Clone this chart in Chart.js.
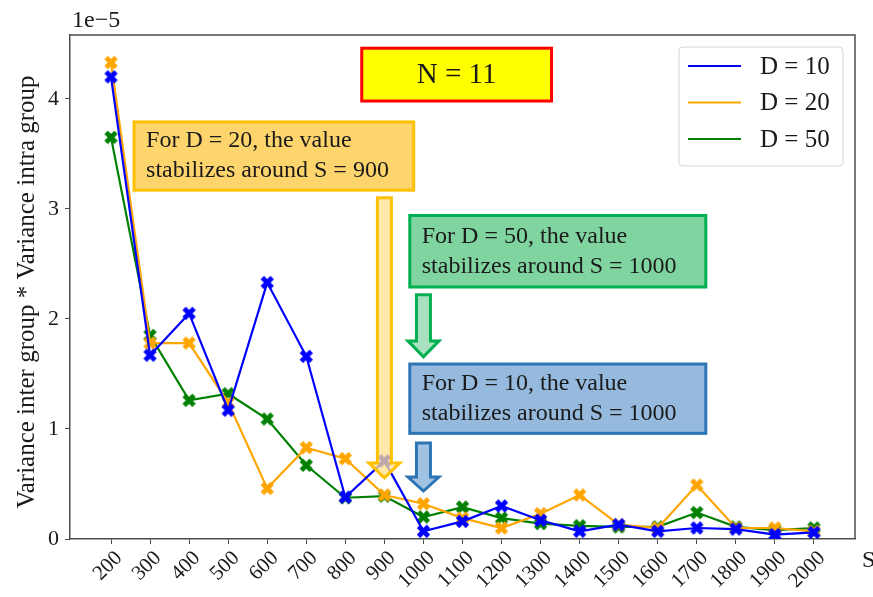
<!DOCTYPE html>
<html>
<head>
<meta charset="utf-8">
<script src="https://cdn.jsdelivr.net/npm/chart.js@4/dist/chart.umd.min.js"></script>
<style>
  html, body { margin: 0; padding: 0; background: #fff; }
  #wrap { width: 873px; height: 597px; position: relative; }
</style>
</head>
<body>
<div id="wrap"><canvas id="c" width="873" height="597"></canvas></div>
<script>
// Sample sizes S
const sizes = [200, 300, 400, 500, 600, 700, 800, 900, 1000, 1100, 1200, 1300, 1400, 1500, 1600, 1700, 1800, 1900, 2000];
// Variance inter group * variance intra group, in units of 1e-5
const d10 = [4.20, 1.67, 2.05, 1.17, 2.33, 1.66, 0.38, 0.71, 0.07, 0.16, 0.30, 0.17, 0.07, 0.13, 0.07, 0.10, 0.09, 0.04, 0.06];
const d20 = [4.33, 1.78, 1.78, 1.24, 0.46, 0.83, 0.73, 0.40, 0.32, 0.19, 0.10, 0.23, 0.40, 0.13, 0.10, 0.49, 0.10, 0.10, 0.07];
const d50 = [3.65, 1.85, 1.26, 1.32, 1.09, 0.67, 0.375, 0.39, 0.20, 0.29, 0.19, 0.14, 0.12, 0.11, 0.11, 0.24, 0.11, 0.08, 0.10];
const seriesLabels = ['D = 10', 'D = 20', 'D = 50'];
const yTicks = [0, 1, 2, 3, 4];

const SERIF = '"Liberation Serif", "DejaVu Serif", serif';
const INK = '#1a1a1a';
const SPINE = '#4d4d4d';

// Filled "X" marker
function xMarker(color) {
  const s = 15;
  const c = document.createElement('canvas');
  c.width = s; c.height = s;
  const g = c.getContext('2d');
  g.fillStyle = color;
  g.translate(s / 2, s / 2);
  g.rotate(Math.PI / 4);
  g.fillRect(-7, -2.4, 14, 4.8);
  g.fillRect(-2.4, -7, 4.8, 14);
  return c;
}

function series(label, values, color) {
  return {
    label,
    data: sizes.map((s, i) => ({ x: s, y: values[i] })),
    borderColor: color,
    backgroundColor: color,
    borderWidth: 2.2,
    pointStyle: xMarker(color),
    pointRadius: 6,
    pointHoverRadius: 6,
    tension: 0,
    fill: false
  };
}

// Callout boxes and arrows, placed in data coordinates
const notes = [
  { x0: 842, x1: 1328, y0: 4.46, y1: 3.98, fill: '#ffff00', stroke: '#ff0000', lines: ['N = 11'], size: 29, center: true },
  { x0: 259, x1: 975, y0: 3.79, y1: 3.17, fill: '#fdd56c', stroke: '#ffc000', lines: ['For D = 20, the value', 'stabilizes around S = 900'], size: 24 },
  { x0: 965, x1: 1723, y0: 2.94, y1: 2.29, fill: '#7fd4a0', stroke: '#00b050', lines: ['For D = 50, the value', 'stabilizes around S = 1000'], size: 24 },
  { x0: 965, x1: 1723, y0: 1.59, y1: 0.96, fill: '#95bade', stroke: '#2e75b6', lines: ['For D = 10, the value', 'stabilizes around S = 1000'], size: 24 }
];
const arrows = [
  { x: 900, yTop: 3.10, yTip: 0.555, head: 15, fill: 'rgba(255,224,140,0.75)', stroke: '#ffc000' },
  { x: 1000, yTop: 2.22, yTip: 1.655, head: 16, fill: 'rgba(160,222,185,0.9)', stroke: '#00b050' },
  { x: 1000, yTop: 0.873, yTip: 0.436, head: 14, fill: 'rgba(150,188,225,0.9)', stroke: '#2e75b6' }
];

const decor = {
  id: 'decor',
  afterDatasetsDraw(chart) {
    const { ctx, scales: { x, y } } = chart;
    ctx.save();
    // arrows
    arrows.forEach(ar => {
      const cx = x.getPixelForValue(ar.x);
      const top = y.getPixelForValue(ar.yTop);
      const tip = y.getPixelForValue(ar.yTip);
      const hs = 7, hh = 15.5;
      const neck = tip - ar.head;
      ctx.beginPath();
      ctx.moveTo(cx - hs, top);
      ctx.lineTo(cx + hs, top);
      ctx.lineTo(cx + hs, neck);
      ctx.lineTo(cx + hh, neck);
      ctx.lineTo(cx, tip);
      ctx.lineTo(cx - hh, neck);
      ctx.lineTo(cx - hs, neck);
      ctx.closePath();
      ctx.fillStyle = ar.fill;
      ctx.fill();
      ctx.lineWidth = 3;
      ctx.strokeStyle = ar.stroke;
      ctx.lineJoin = 'miter';
      ctx.stroke();
    });
    // boxes
    notes.forEach(n => {
      const l = x.getPixelForValue(n.x0), r = x.getPixelForValue(n.x1);
      const t = y.getPixelForValue(n.y0), b = y.getPixelForValue(n.y1);
      ctx.fillStyle = n.fill;
      ctx.fillRect(l, t, r - l, b - t);
      ctx.lineWidth = 3;
      ctx.strokeStyle = n.stroke;
      ctx.strokeRect(l, t, r - l, b - t);
      ctx.fillStyle = INK;
      ctx.font = n.size + 'px ' + SERIF;
      ctx.textBaseline = 'middle';
      if (n.center) {
        ctx.textAlign = 'center';
        ctx.fillText(n.lines[0], (l + r) / 2, (t + b) / 2 + 1);
      } else {
        ctx.textAlign = 'left';
        const mid = (t + b) / 2;
        ctx.fillText(n.lines[0], l + 12, mid - 15);
        ctx.fillText(n.lines[1], l + 12, mid + 15);
      }
    });
    ctx.restore();
  },
  afterDraw(chart) {
    const { ctx, chartArea: a } = chart;
    ctx.save();
    // top and right spines
    ctx.strokeStyle = SPINE;
    ctx.lineWidth = 1.5;
    ctx.beginPath();
    ctx.moveTo(a.left, a.top);
    ctx.lineTo(a.right, a.top);
    ctx.lineTo(a.right, a.bottom);
    ctx.stroke();

    // legend
    const lx = 679, ly = 47, lw = 164, lh = 119;
    ctx.beginPath();
    ctx.roundRect(lx, ly, lw, lh, 4);
    ctx.fillStyle = 'rgba(255,255,255,0.85)';
    ctx.fill();
    ctx.strokeStyle = '#d6d6d6';
    ctx.lineWidth = 1;
    ctx.stroke();
    chart.data.datasets.forEach((ds, i) => {
      const yy = 66 + i * 36.5;
      ctx.strokeStyle = ds.borderColor;
      ctx.lineWidth = 2.2;
      ctx.beginPath();
      ctx.moveTo(688, yy);
      ctx.lineTo(741, yy);
      ctx.stroke();
      ctx.fillStyle = INK;
      ctx.font = '25px ' + SERIF;
      ctx.textAlign = 'left';
      ctx.textBaseline = 'middle';
      ctx.fillText(ds.label, 760, yy + 1);
    });

    // exponent, axis titles
    ctx.fillStyle = INK;
    ctx.font = '24px ' + SERIF;
    ctx.textAlign = 'left';
    ctx.textBaseline = 'alphabetic';
    ctx.fillText('1e\u22125', 72, 27);
    ctx.fillText('S', 862, 567);
    ctx.font = '25px ' + SERIF;
    ctx.translate(27, 292);
    ctx.rotate(-Math.PI / 2);
    ctx.textAlign = 'center';
    ctx.textBaseline = 'middle';
    ctx.fillText('Variance inter group * Variance intra group', 0, 0);
    ctx.restore();
  }
};

new Chart(document.getElementById('c'), {
  type: 'line',
  data: {
    datasets: [
      series(seriesLabels[0], d10, '#0000ff'),
      series(seriesLabels[1], d20, '#ffa500'),
      series(seriesLabels[2], d50, '#008000')
    ]
  },
  options: {
    responsive: false,
    animation: false,
    devicePixelRatio: 1,
    layout: { padding: { top: 35, right: 18, left: 0, bottom: 0 } },
    plugins: { legend: { display: false }, tooltip: { enabled: false } },
    scales: {
      x: {
        type: 'linear',
        min: 95,
        max: 2105,
        afterBuildTicks(scale) { scale.ticks = sizes.map(v => ({ value: v })); },
        afterFit(scale) { scale.height = 58; },
        border: { display: true, color: SPINE, width: 1.5 },
        grid: { drawOnChartArea: false, drawTicks: true, tickLength: 5, color: SPINE, lineWidth: 1 },
        ticks: {
          autoSkip: false,
          minRotation: 45,
          maxRotation: 45,
          padding: 2,
          labelOffset: 8,
          color: INK,
          font: { family: SERIF, size: 21 },
          callback: v => String(v)
        }
      },
      y: {
        min: 0,
        max: 4.58,
        afterBuildTicks(scale) { scale.ticks = yTicks.map(v => ({ value: v })); },
        afterFit(scale) { scale.width = 70; },
        border: { display: true, color: SPINE, width: 1.5 },
        grid: { drawOnChartArea: false, drawTicks: true, tickLength: 5, color: SPINE, lineWidth: 1 },
        ticks: {
          padding: 6,
          color: INK,
          font: { family: SERIF, size: 22 },
          callback: v => String(v)
        }
      }
    }
  },
  plugins: [decor]
});
</script>
</body>
</html>
